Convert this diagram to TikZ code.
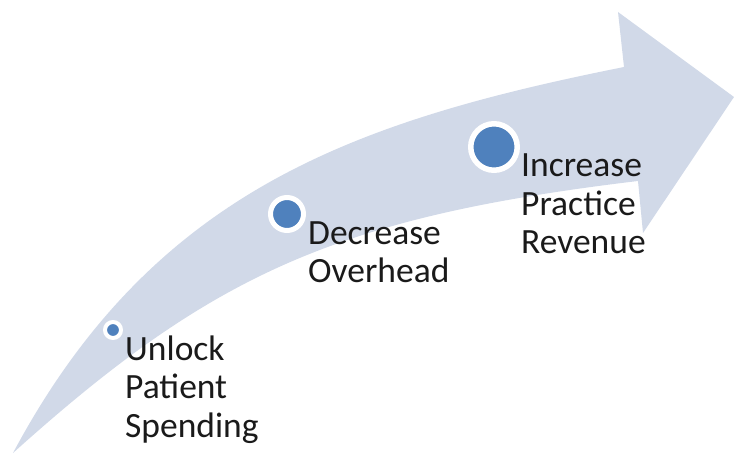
\documentclass[tikz,border=0pt]{standalone}
\usepackage{fontspec}
\setmainfont{Carlito}
\definecolor{arrowfill}{HTML}{D1D9E8}
\definecolor{dotblue}{HTML}{4F81BD}
\definecolor{txt}{HTML}{1A1A1A}
\begin{document}
\begin{tikzpicture}[x=1pt,y=-1pt,
  dot/.style={circle, fill=dotblue, draw=white, inner sep=0pt, outer sep=0pt},
  lbl/.style={anchor=base west, inner sep=0pt, align=left, font=\fontsize{35.5}{38.5}\selectfont, text=txt}]
\useasboundingbox (0,0) rectangle (734,454);
\fill[arrowfill] (13,453) .. controls (153,191) and (354,121) .. (624,67) -- (618,12) -- (734,97) -- (643,233) -- (638,181) .. controls (338,217) and (213,273) .. (13,453) -- cycle;
\node[dot, line width=4pt, minimum size=16pt] (d1) at (113,330) {};
\node[dot, line width=5pt, minimum size=33pt] (d2) at (287,214) {};
\node[dot, line width=5.5pt, minimum size=46.5pt] (d3) at (494,147) {};
\node[lbl] (t1) at (125,437) {Unlock\\Patient\\Spending};
\node[lbl] (t2) at (308,283) {Decrease\\Overhead};
\node[lbl] (t3) at (521,254) {Increase\\Practice\\Revenue};
\end{tikzpicture}
\end{document}
